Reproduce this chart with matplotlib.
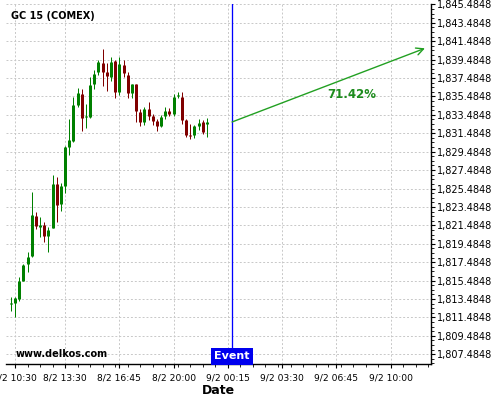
import numpy as np
import matplotlib
matplotlib.use('Agg')
import matplotlib.pyplot as plt
from matplotlib.ticker import FixedLocator, AutoMinorLocator, FuncFormatter
import matplotlib.transforms as mtransforms

# ─── Data: 15-minute candles ──────────────────────────────────────────
opens = [1812.91, 1813.09, 1813.49, 1815.48, 1817.29, 1818.16, 1822.50, 1821.27,
         1821.52, 1820.36, 1821.23, 1825.98, 1823.80, 1825.79, 1830.03, 1830.68,
         1834.55, 1835.75, 1833.25, 1833.28, 1836.80, 1838.17, 1839.08, 1838.10,
         1837.56, 1839.33, 1836.00, 1838.89, 1837.84, 1835.89, 1836.83, 1833.83,
         1832.74, 1834.12, 1833.36, 1832.82, 1832.27, 1833.36, 1833.93, 1833.57,
         1835.53, 1835.47, 1832.92, 1831.26, 1831.29, 1832.27, 1832.74, 1832.53]
highs = [1813.67, 1813.74, 1815.91, 1817.26, 1818.59, 1825.07, 1822.90, 1822.36,
         1821.82, 1821.27, 1826.95, 1826.77, 1826.05, 1830.10, 1833.00, 1835.45,
         1836.43, 1836.26, 1834.63, 1837.56, 1838.35, 1839.44, 1840.60, 1839.08,
         1839.73, 1839.40, 1839.73, 1839.44, 1838.10, 1836.83, 1836.83, 1834.12,
         1834.37, 1834.91, 1833.58, 1833.00, 1833.47, 1834.37, 1834.19, 1835.75,
         1836.00, 1835.93, 1833.00, 1832.49, 1832.38, 1833.00, 1832.92, 1833.11]
lows = [1812.19, 1811.50, 1813.30, 1815.47, 1816.45, 1818.02, 1821.05, 1820.19,
        1819.65, 1818.62, 1821.15, 1821.82, 1823.07, 1824.96, 1829.12, 1830.57,
        1834.37, 1831.73, 1832.09, 1833.11, 1836.26, 1837.81, 1836.65, 1836.10,
        1837.19, 1835.28, 1835.64, 1837.56, 1835.28, 1835.28, 1832.74, 1832.27,
        1832.38, 1832.93, 1832.38, 1831.73, 1832.20, 1833.00, 1833.36, 1833.36,
        1835.28, 1832.49, 1831.11, 1830.83, 1830.94, 1831.84, 1831.40, 1831.11]
closes = [1812.95, 1813.57, 1815.44, 1817.18, 1818.02, 1822.61, 1821.45, 1821.52,
          1820.36, 1820.98, 1825.98, 1823.70, 1825.76, 1829.96, 1830.75, 1834.55,
          1835.82, 1833.17, 1833.33, 1836.72, 1837.92, 1839.19, 1838.17, 1837.73,
          1839.19, 1836.00, 1839.00, 1837.99, 1835.89, 1836.83, 1833.93, 1832.74,
          1834.12, 1833.36, 1832.82, 1832.27, 1833.22, 1833.93, 1833.57, 1835.45,
          1835.64, 1832.92, 1831.29, 1831.22, 1832.27, 1832.59, 1831.57, 1832.71]

tick_pos = [1, 13, 26, 39, 52, 65, 78, 91]
tick_labels = ['8/2 10:30', '8/2 13:30', '8/2 16:45', '8/2 20:00',
               '9/2 00:15', '9/2 03:30', '9/2 06:45', '9/2 10:00']
y_ticks = [1807.4848 + 2 * i for i in range(20)]

event_idx = 53
forecast_end = (99.2, 1840.71)
forecast_pct = '71.42%'

# ─── Plot ─────────────────────────────────────────────────────────────
fig = plt.figure(figsize=(5, 4), dpi=100)
ax = fig.add_axes([0.011, 0.09, 0.851, 0.90])

x = np.arange(len(opens))
o = np.array(opens)
c = np.array(closes)
up = c >= o
colors = np.where(up, '#008000', '#800000')

# wicks (1px) and bodies (3px) as vertical lines so both snap to the same pixel column
px = 72 / 100
body_lo = np.minimum(o, c)
body_hi = np.maximum(np.maximum(o, c), body_lo + 0.12)
ax.vlines(x, lows, highs, colors=colors, linewidth=1 * px, zorder=3)
ax.vlines(x, body_lo, body_hi, colors=colors, linewidth=3 * px, zorder=4)

# event line + forecast arrow
ax.axvline(event_idx, color='#0000ff', linewidth=1.3 * px, zorder=5)
ax.annotate('', xy=forecast_end, xytext=(event_idx, closes[-1]),
            arrowprops=dict(arrowstyle='->', color='#22a022', lw=1,
                            mutation_scale=13, shrinkA=0, shrinkB=0), zorder=6)
ax.text(81.7, 1835.7, forecast_pct, color='#1e8c1e', fontsize=8.5,
        fontweight='bold', ha='center', va='center')

trans = mtransforms.blended_transform_factory(ax.transData, ax.transAxes)
ax.text(event_idx, 0.021, 'Event', transform=trans, color='white', fontsize=8,
        fontweight='bold', ha='center', va='center', zorder=7,
        bbox=dict(boxstyle='square,pad=0.3', facecolor='#0000ee', edgecolor='none'))

ax.text(0.012, 0.968, 'GC 15 (COMEX)', transform=ax.transAxes, fontsize=7,
        fontweight='bold', ha='left', va='center')
ax.text(0.023, 0.028, 'www.delkos.com', transform=ax.transAxes, fontsize=7,
        fontweight='bold', ha='left', va='center')

# axes
ax.set_xlim(-1.27, 100.65)
ax.set_ylim(1806.43, 1845.52)
ax.xaxis.set_major_locator(FixedLocator(tick_pos))
ax.set_xticklabels(tick_labels, fontsize=6.6)
ax.xaxis.set_minor_locator(AutoMinorLocator(4))
ax.yaxis.tick_right()
ax.yaxis.set_major_locator(FixedLocator(y_ticks))
ax.yaxis.set_major_formatter(FuncFormatter(lambda v, p: f'{v:,.4f}'))
ax.yaxis.set_minor_locator(AutoMinorLocator(4))
ax.tick_params(axis='y', labelsize=7, length=3, pad=1, which='major')
ax.tick_params(axis='y', length=2, which='minor')
ax.tick_params(axis='x', length=3, pad=4, which='major')
ax.tick_params(axis='x', length=2, which='minor')
ax.set_xlabel('Date', fontsize=9, fontweight='bold', labelpad=1)

for s in ['top', 'left']:
    ax.spines[s].set_visible(False)
ax.spines['bottom'].set_linewidth(1)
ax.spines['right'].set_linewidth(1)
ax.grid(True, which='major', color='#c8c8c8', linestyle=(0, (2, 2)), linewidth=0.7)
ax.set_axisbelow(True)

plt.savefig('out.png', dpi=100)
plt.close()
